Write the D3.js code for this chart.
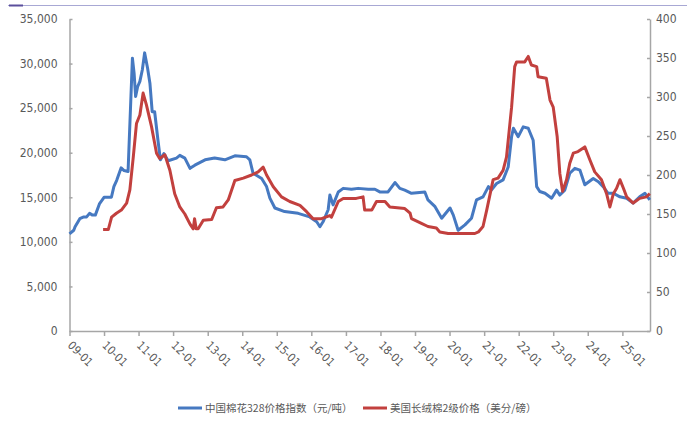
<!DOCTYPE html>
<html>
<head>
<meta charset="utf-8">
<script src="https://cdn.jsdelivr.net/npm/d3@7"></script>
<style>
  html, body { margin: 0; padding: 0; background: #ffffff; }
  svg { display: block; }
  .ax text { fill: #595959; font-family: "Liberation Sans Narrow", "DejaVu Sans Condensed", "Liberation Sans", sans-serif; font-size: 12px; }
  .ax path, .ax line { stroke: #a6a6a6; stroke-width: 1.5; }
  .legend text { fill: #595959; font-family: "Noto Sans CJK SC", "Liberation Sans Narrow", sans-serif; font-size: 10.5px; }
</style>
</head>
<body>
<script>
// ---------------- data ----------------
const xTickLabels = ["09-01","10-01","11-01","12-01","13-01","14-01","15-01","16-01","17-01",
                     "18-01","19-01","20-01","21-01","22-01","23-01","24-01","25-01"];
const leftTicks  = [0, 5000, 10000, 15000, 20000, 25000, 30000, 35000];
const rightTicks = [0, 50, 100, 150, 200, 250, 300, 350, 400];

const seriesNames = ["中国棉花328价格指数（元/吨）", "美国长绒棉2级价格（美分/磅）"];

// China cotton 328 index (yuan/ton)
const chinaDates = [
 "2009-01-01","2009-02-15","2009-03-01","2009-04-20","2009-06-01","2009-07-01","2009-08-01","2009-09-01","2009-10-01",
 "2009-11-15","2010-01-01","2010-02-01","2010-03-20","2010-04-15","2010-05-15","2010-07-01","2010-08-01","2010-09-12",
 "2010-10-28","2010-11-15","2010-12-01","2010-12-22","2011-01-15","2011-02-10","2011-03-06","2011-04-06","2011-05-01",
 "2011-05-25","2011-06-20","2011-07-25","2011-08-20","2011-09-25","2011-11-10","2012-02-05","2012-03-12","2012-05-04",
 "2012-06-28","2012-08-18","2012-12-04","2013-03-15","2013-07-01","2013-10-15","2014-02-15","2014-03-22","2014-04-25",
 "2014-07-25","2014-09-15","2014-10-20","2014-12-12","2015-03-25","2015-08-15","2015-12-15","2016-02-27","2016-04-01",
 "2016-05-04","2016-06-27","2016-07-15","2016-08-18","2016-10-12","2016-12-03","2017-03-01","2017-05-10","2017-08-25",
 "2017-11-03","2017-12-25","2018-03-22","2018-06-03","2018-07-25","2018-09-15","2018-11-25","2019-04-15","2019-05-18",
 "2019-08-01","2019-10-10","2020-01-06","2020-02-10","2020-04-01","2020-06-12","2020-08-20","2020-10-12","2020-12-20",
 "2021-02-15","2021-03-18","2021-05-12","2021-07-20","2021-09-12","2021-10-18","2021-11-06","2021-12-27","2022-02-18",
 "2022-04-12","2022-06-03","2022-07-10","2022-08-12","2022-10-06","2022-12-15","2023-02-06","2023-03-12","2023-05-03",
 "2023-06-25","2023-08-18","2023-10-10","2023-12-01","2024-02-28","2024-04-22","2024-06-12","2024-08-03","2024-09-28",
 "2024-12-06","2025-02-15","2025-04-25","2025-07-03","2025-08-28","2025-10-18"
];
const chinaValues = [
 10900,11300,11700,12600,12800,12800,13200,13000,13000,
 14300,15000,15000,15000,16200,16900,18300,18000,17900,
 30600,28900,26300,27400,28000,29300,31200,29500,27800,
 24600,24600,21400,19200,19900,19100,19400,19700,19400,
 18250,18600,19200,19400,19200,19650,19550,19200,17700,
 17100,16200,14900,13800,13400,13200,12800,12250,11700,
 12250,13600,15250,14150,15600,16000,15900,16000,15900,
 15900,15600,15600,16650,16000,15800,15450,15600,14700,
 13950,12650,13800,13000,11300,11900,12650,14700,15050,
 16200,15800,16550,16950,18400,21800,22750,21800,22900,
 22750,21400,16200,15650,15450,14900,15800,15250,15800,
 17700,18250,18050,16400,17100,16750,16200,15450,15450,
 15050,14900,14350,15050,15450,14700
];

// US Pima cotton grade 2 (US cents/lb)
const usDates = [
 "2009-12-22","2010-02-15","2010-03-22","2010-05-12","2010-07-03","2010-08-28","2010-10-01","2010-11-06","2010-12-10",
 "2011-01-15","2011-02-18","2011-03-25","2011-05-18","2011-07-10","2011-08-12","2011-10-06","2011-11-28","2012-01-18",
 "2012-03-12","2012-05-04","2012-06-28","2012-08-01","2012-08-15","2012-09-01","2012-09-22","2012-11-15","2013-02-12",
 "2013-04-03","2013-06-12","2013-08-06","2013-10-15","2014-01-12","2014-04-10","2014-06-18","2014-08-10","2014-09-15",
 "2014-11-25","2015-02-20","2015-05-18","2015-09-03","2015-11-12","2016-01-20","2016-04-18","2016-07-15","2016-08-01",
 "2016-10-12","2016-12-03","2017-04-20","2017-07-01","2017-07-18","2017-10-01","2017-11-20","2018-02-18","2018-04-10",
 "2018-09-15","2018-11-10","2018-11-25","2019-03-10","2019-05-18","2019-08-15","2019-09-20","2019-12-18","2020-09-25",
 "2020-11-01","2020-12-20","2021-01-28","2021-04-06","2021-05-28","2021-07-20","2021-08-25","2021-10-18","2021-11-20",
 "2021-12-10","2022-03-06","2022-04-12","2022-05-15","2022-07-10","2022-07-25","2022-10-20","2022-11-28","2023-01-01",
 "2023-02-12","2023-03-12","2023-04-10","2023-05-22","2023-06-25","2023-08-01","2023-09-20","2023-12-01","2024-01-25",
 "2024-03-15","2024-05-25","2024-07-18","2024-08-22","2024-09-28","2024-11-01","2024-12-06","2025-01-12","2025-02-15",
 "2025-04-25","2025-07-03","2025-09-12","2025-10-18"
];
const usValues = [
 130,130,146,151,155,164,181,223,266,
 277,305,290,262,228,221,226,206,176,
 159,150,137,131,144,131,131,142,143,
 158,159,168,193,196,200,204,210,200,
 185,172,166,161,153,144,144,148,146,
 166,170,170,172,155,155,166,166,159,
 157,151,144,138,134,132,127,125,125,
 127,134,155,194,196,206,223,287,339,
 345,345,352,341,339,326,324,296,287,
 249,202,179,194,215,228,230,236,219,
 204,194,176,159,176,183,194,183,172,
 164,170,172,176
];

// ---------------- chart ----------------
const W = 687, H = 425;
const plotL = 69.5, plotR = 650, plotT = 19, plotB = 331;
const parse = d3.timeParse("%Y-%m-%d");

const svg = d3.select("body").append("svg").attr("width", W).attr("height", H);

// thin decorative rule at top
svg.append("line").attr("x1", 8).attr("x2", W).attr("y1", 5.5).attr("y2", 5.5)
   .attr("stroke", "#a8a8d4").attr("stroke-width", 1);
svg.append("line").attr("x1", 9).attr("x2", 23).attr("y1", 5.5).attr("y2", 5.5)
   .attr("stroke", "#5b4f9c").attr("stroke-width", 2);

const x = d3.scaleTime().domain([parse("2009-01-01"), parse("2025-10-20")]).range([plotL, plotR]);
const yL = d3.scaleLinear().domain([0, 35000]).range([plotB, plotT]);
const yR = d3.scaleLinear().domain([0, 400]).range([plotB, plotT]);

const xTickDates = xTickLabels.map(s => parse("20" + s.slice(0, 2) + "-" + s.slice(3) + "-01"));

// left axis (inner ticks)
const gL = svg.append("g").attr("class", "ax").attr("transform", `translate(${plotL},0)`)
  .call(d3.axisLeft(yL).tickValues(leftTicks).tickFormat(d3.format(",")).tickSizeInner(-3).tickSizeOuter(0).tickPadding(12));

// right axis (inner ticks)
const gR = svg.append("g").attr("class", "ax").attr("transform", `translate(${plotR},0)`)
  .call(d3.axisRight(yR).tickValues(rightTicks).tickSizeInner(-3).tickSizeOuter(0).tickPadding(6));

// bottom axis
const gB = svg.append("g").attr("class", "ax").attr("transform", `translate(0,${plotB})`)
  .call(d3.axisBottom(x).tickValues(xTickDates).tickFormat((d, i) => xTickLabels[i]).tickSizeInner(5).tickSizeOuter(0));
gB.selectAll("text")
  .attr("text-anchor", "start")
  .attr("dy", null)
  .attr("y", 0)
  .attr("transform", "translate(-3,15) rotate(45)")
  .style("font-size", "11.5px");

// lines
const chinaData = chinaDates.map((d, i) => ({ date: parse(d), v: chinaValues[i] }));
const usData = usDates.map((d, i) => ({ date: parse(d), v: usValues[i] }));

const lineL = d3.line().x(d => x(d.date)).y(d => yL(d.v));
const lineR = d3.line().x(d => x(d.date)).y(d => yR(d.v));

const blue = "#4679c1", red = "#c2403e";

svg.append("path").datum(chinaData).attr("d", lineL)
  .attr("fill", "none").attr("stroke", blue).attr("stroke-width", 3).attr("stroke-linejoin", "round");
svg.append("path").datum(usData).attr("d", lineR)
  .attr("fill", "none").attr("stroke", red).attr("stroke-width", 3).attr("stroke-linejoin", "round");

// legend
const lg = svg.append("g").attr("class", "legend");
const legendItems = [
  { name: seriesNames[0], color: blue, x: 178 },
  { name: seriesNames[1], color: red, x: 363 }
];
legendItems.forEach(it => {
  lg.append("line").attr("x1", it.x).attr("x2", it.x + 24).attr("y1", 408).attr("y2", 408)
    .attr("stroke", it.color).attr("stroke-width", 3);
  lg.append("text").attr("x", it.x + 27).attr("y", 408).attr("dy", "0.35em").text(it.name);
});
</script>
</body>
</html>
